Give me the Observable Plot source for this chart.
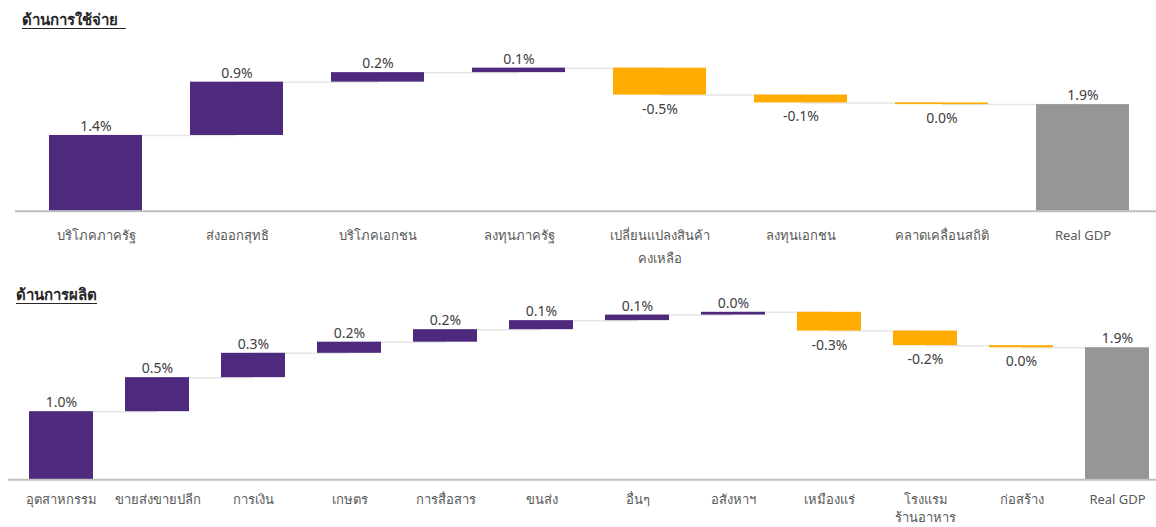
<!DOCTYPE html>
<html>
<head>
<meta charset="utf-8">
<script src="https://cdn.jsdelivr.net/npm/d3@7"></script>
<script src="https://cdn.jsdelivr.net/npm/@observablehq/plot@0.6"></script>
<style>
  html, body { margin: 0; padding: 0; background: #fff; }
  body { width: 1156px; height: 527px; position: relative; overflow: hidden;
         font-family: "Noto Sans", "Open Sans", sans-serif; }
  .title { position: absolute; font-weight: bold; font-size: 15px; color: #262626;
           text-decoration: underline; text-underline-offset: 3px; white-space: pre; }
  #t1 { left: 22px; top: 8px; }
  #t2 { left: 16px; top: 283px; }
  #c1 { position: absolute; left: 0; top: 30px; }
  #c2 { position: absolute; left: 0; top: 290px; }
</style>
</head>
<body>
<div class="title" id="t1">ด้านการใช้จ่าย  </div>
<div class="title" id="t2">ด้านการผลิต</div>
<div id="c1"></div>
<div id="c2"></div>
<script>
// ---- Expenditure side (ด้านการใช้จ่าย) ----
const expCategories = ["บริโภคภาครัฐ", "ส่งออกสุทธิ", "บริโภคเอกชน", "ลงทุนภาครัฐ", "เปลี่ยนแปลงสินค้า\nคงเหลือ", "ลงทุนเอกชน", "คลาดเคลื่อนสถิติ", "Real GDP"];
const expValues = [1.35, 0.95, 0.17, 0.08, -0.48, -0.14, -0.03, 1.90];
const expLabels = ["1.4%", "0.9%", "0.2%", "0.1%", "-0.5%", "-0.1%", "0.0%", "1.9%"];

// ---- Production side (ด้านการผลิต) ----
const prodCategories = ["อุตสาหกรรม", "ขายส่งขายปลีก", "การเงิน", "เกษตร", "การสื่อสาร", "ขนส่ง", "อื่นๆ", "อสังหาฯ", "เหมืองแร่", "โรงแรม\nร้านอาหาร", "ก่อสร้าง", "Real GDP"];
const prodValues = [0.98, 0.49, 0.35, 0.16, 0.18, 0.13, 0.08, 0.04, -0.27, -0.21, -0.03, 1.90];
const prodLabels = ["1.0%", "0.5%", "0.3%", "0.2%", "0.2%", "0.1%", "0.1%", "0.0%", "-0.3%", "-0.2%", "0.0%", "1.9%"];

const PURPLE = "#4e2a7e", ORANGE = "#ffab00", GREY = "#969696";

function waterfall(cats, vals, labels) {
  const rows = [];
  let cum = 0;
  cats.forEach((c, i) => {
    const last = i === cats.length - 1;
    const y1 = last ? 0 : cum;
    const y2 = last ? vals[i] : cum + vals[i];
    rows.push({cat: c, y1, y2, top: Math.max(y1, y2), bot: Math.min(y1, y2),
      kind: last ? "total" : (vals[i] >= 0 ? "pos" : "neg"), label: labels[i], end: y2});
    if (!last) cum += vals[i];
  });
  const links = rows.slice(0, -1).map((r, i) => ({a: r.cat, b: rows[i + 1].cat, y: r.end}));
  return {rows, links};
}

function chart(cats, vals, labels, o) {
  const {rows, links} = waterfall(cats, vals, labels);
  return Plot.plot({
    width: 1156, height: o.height,
    marginLeft: o.axisLeft, marginRight: 0, marginTop: 0, marginBottom: 0,
    style: {fontFamily: "'Noto Sans', 'Open Sans', sans-serif", background: "transparent"},
    x: {type: "band", domain: cats, range: o.xRange, paddingInner: o.pad, paddingOuter: o.pad / 2, axis: null},
    y: {domain: o.yDomain, range: o.yRange, axis: null},
    marks: [
      Plot.link(links, {x1: "a", x2: "b", y1: "y", y2: "y", stroke: "#e6e6e6", strokeWidth: 1.5}),
      Plot.barY(rows, {x: "cat", y1: "y1", y2: "y2",
        fill: d => d.kind === "total" ? GREY : d.kind === "pos" ? PURPLE : ORANGE}),
      Plot.ruleY([0], {stroke: "#bfbfbf", strokeWidth: 2}),
      Plot.text(rows.filter(d => d.kind !== "neg"), {x: "cat", y: "top", text: "label",
        dy: -9, fontSize: 14, fill: "#404040"}),
      Plot.text(rows.filter(d => d.kind === "neg"), {x: "cat", y: "bot", text: "label",
        dy: 14, fontSize: 14, fill: "#404040"}),
      Plot.text(rows, {x: "cat", y: 0, text: "cat", dy: o.labelDy, lineAnchor: "top", lineHeight: o.lineHeight,
        fontSize: 13, fill: "#595959"})
    ]
  });
}

document.getElementById("c1").append(chart(expCategories, expValues, expLabels, {
  height: 240, axisLeft: 15, xRange: [22.7, 1155.7], pad: 0.343,
  yDomain: [0, 2.8], yRange: [180.7, 180.7 - 2.8 * 56.1], labelDy: 13, lineHeight: 1.75
}));
document.getElementById("c2").append(chart(prodCategories, prodValues, prodLabels, {
  height: 237, axisLeft: 8, xRange: [11.9, 1166.6], pad: 0.335,
  yDomain: [0, 2.6], yRange: [189.3, 189.3 - 2.6 * 69.5], labelDy: 11, lineHeight: 1.4
}));
</script>
</body>
</html>
